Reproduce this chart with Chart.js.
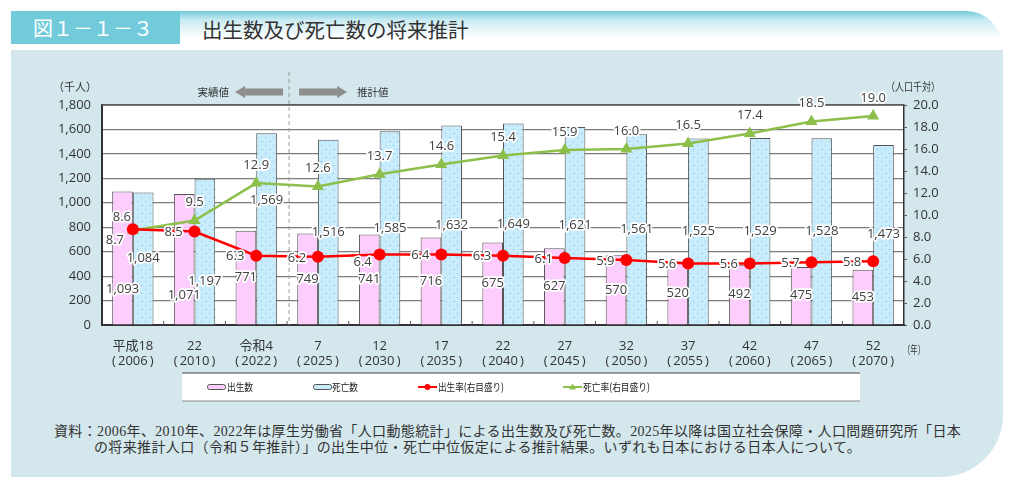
<!DOCTYPE html>
<html><head><meta charset="utf-8">
<script src="https://cdn.jsdelivr.net/npm/chart.js@4/dist/chart.umd.min.js"></script>
<style>
html,body{margin:0;padding:0;background:#fff;width:1024px;height:488px;overflow:hidden;}
#wrap{position:relative;width:1024px;height:488px;font-family:"Noto Sans CJK JP","Noto Sans",sans-serif;}
#panel{position:absolute;left:11px;top:50px;width:992px;height:427px;background:#d3e7ed;border-bottom-right-radius:62px;}
#hdrbar{position:absolute;left:180px;top:11px;width:822px;height:36px;background:linear-gradient(#74cbdb 0%,#c9ebf2 25%,#ffffff 75%);border-top-right-radius:44px;}
#badge{position:absolute;left:11px;top:11px;width:169px;height:33px;background:#72cbdb;color:#fff;font-size:20px;line-height:33px;text-indent:22px;}
#title{position:absolute;left:202px;top:14px;font-size:20.5px;line-height:30px;color:#333;}
#c{position:absolute;left:0;top:0;}
.note{position:absolute;font-family:"Liberation Serif","Noto Sans CJK JP",serif;font-size:14px;letter-spacing:0.36px;color:#333;white-space:nowrap;line-height:16px;}
</style></head>
<body><div id="wrap">
<div id="panel"></div>
<div id="hdrbar"></div>
<div id="badge">図１－１－３</div>
<div id="title">出生数及び死亡数の将来推計</div>
<div class="note" id="n1" style="left:54px;top:424px;">資料：2006年、2010年、2022年は厚生労働省「人口動態統計」による出生数及び死亡数。2025年以降は国立社会保障・人口問題研究所「日本</div>
<div class="note" id="n2" style="left:94px;top:440px;">の将来推計人口（令和５年推計）」の出生中位・死亡中位仮定による推計結果。いずれも日本における日本人について。</div>
<canvas id="c" width="1024" height="488"></canvas>
</div>
<script>
// ---- data ----
const eraLabels  = ['平成18','22','令和4','7','12','17','22','27','32','37','42','47','52'];
const yearLabels = ['2006','2010','2022','2025','2030','2035','2040','2045','2050','2055','2060','2065','2070'];
const births     = [1093,1071,771,749,741,716,675,627,570,520,492,475,453];
const deaths     = [1084,1197,1569,1516,1585,1632,1649,1621,1561,1525,1529,1528,1473];
const birthRate  = [8.7,8.5,6.3,6.2,6.4,6.4,6.3,6.1,5.9,5.6,5.6,5.7,5.8];
const deathRate  = [8.6,9.5,12.9,12.6,13.7,14.6,15.4,15.9,16.0,16.5,17.4,18.5,19.0];
const leftTicks  = {min:0,max:1800,step:200};
const rightTicks = {min:0,max:20,step:2};
const seriesNames = ['出生数','死亡数','出生率(右目盛り)','死亡率(右目盛り)'];

// label nudges (pixels) where the reference moved labels away from default
const birthsLabelDy = {0:31,1:36};
const deathsLabelDy = {1:30,2:-29};
const birthRateNudge = {0:[-18,11],4:[-17,8]};
const deathRateNudge = {0:[-11,-13]};

const PINK='#fdcdfd', BLUE='#c8ecfb', RED='#ff0000', GREEN='#8dbf4b', EDGE='#555';

function dotPattern(){
  const p=document.createElement('canvas');p.width=8;p.height=8;
  const g=p.getContext('2d');
  g.fillStyle=BLUE;g.fillRect(0,0,8,8);
  g.fillStyle='#6cc2e6';
  g.fillRect(1,1,1,1);g.fillRect(5,5,1,1);
  return g.createPattern(p,'repeat');
}
const ctx0=document.getElementById('c').getContext('2d');
const pat=dotPattern();

const fontNum='"Open Sans","Noto Sans CJK JP",sans-serif';
const fontJP='"Noto Sans CJK JP",sans-serif';

function halo(ctx,text,x,y,font,color){
  ctx.save();ctx.font=font;ctx.textAlign='center';ctx.textBaseline='middle';
  ctx.lineJoin='round';ctx.strokeStyle='#fff';ctx.lineWidth=3.5;ctx.strokeText(text,x,y);
  ctx.fillStyle=color||'#404040';ctx.fillText(text,x,y);ctx.restore();
}
function fmt(n){return n.toLocaleString('en-US');}

const deco={
  id:'deco',
  beforeDraw(chart){
    const {ctx,chartArea:a}=chart;
    ctx.save();ctx.fillStyle='#fff';ctx.fillRect(a.left,a.top,a.right-a.left,a.bottom-a.top);ctx.restore();
  },
  beforeDatasetsDraw(chart){
    const {ctx,chartArea:a,scales}=chart;const x=scales.x;
    ctx.save();ctx.strokeStyle='#555';ctx.lineWidth=1.5;
    ctx.beginPath();ctx.moveTo(a.left,a.top);ctx.lineTo(a.right,a.top);ctx.stroke();
    ctx.strokeStyle='#555';ctx.lineWidth=1;
    for(let i=1;i<eraLabels.length;i++){
      const bx=(x.getPixelForValue(i-1)+x.getPixelForValue(i))/2;
      ctx.beginPath();ctx.moveTo(bx,a.bottom-4);ctx.lineTo(bx,a.bottom);ctx.stroke();
    }
    const dx=(x.getPixelForValue(2)+x.getPixelForValue(3))/2+2;
    ctx.strokeStyle='#9a9a9a';ctx.lineWidth=1;ctx.setLineDash([4,3]);
    ctx.beginPath();ctx.moveTo(dx,72);ctx.lineTo(dx,a.bottom);ctx.stroke();
    ctx.setLineDash([]);
    ctx.fillStyle='#8e8e8e';
    const ay=92;
    ctx.fillRect(dx-44,ay-3.5,38,7);
    ctx.beginPath();ctx.moveTo(dx-54,ay);ctx.lineTo(dx-44,ay-6);ctx.lineTo(dx-44,ay+6);ctx.closePath();ctx.fill();
    ctx.fillRect(dx+10,ay-3.5,38,7);
    ctx.beginPath();ctx.moveTo(dx+58,ay);ctx.lineTo(dx+48,ay-6);ctx.lineTo(dx+48,ay+6);ctx.closePath();ctx.fill();
    ctx.fillStyle='#333';ctx.font='10.5px '+fontJP;ctx.textBaseline='middle';
    ctx.textAlign='right';ctx.fillText('実績値',dx-60,ay);
    ctx.textAlign='left';ctx.fillText('推計値',dx+68,ay);
    ctx.font='11px '+fontJP;ctx.textAlign='center';
    ctx.fillText('（千人）',75,87,44);
    ctx.fillText('（人口千対）',913,87,54);
    ctx.fillText('（年）',914,350,22);
    ctx.restore();
  },
  afterDraw(chart){
    const {ctx,scales}=chart;const x=scales.x,y1=scales.y1;
    const mB=chart.getDatasetMeta(0),mD=chart.getDatasetMeta(1);
    const f='13px '+fontNum;
    births.forEach((v,i)=>{
      const el=mB.data[i];const cy=(el.y+el.base)/2+(birthsLabelDy[i]||0);
      halo(ctx,fmt(v),el.x,cy,f);
    });
    deaths.forEach((v,i)=>{
      const el=mD.data[i];const cy=(el.y+el.base)/2+(deathsLabelDy[i]||0);
      halo(ctx,fmt(v),el.x,cy,f);
    });
    deathRate.forEach((v,i)=>{
      const n=deathRateNudge[i]||[0,-18];
      halo(ctx,v.toFixed(1),x.getPixelForValue(i)+n[0],y1.getPixelForValue(v)+n[1],f);
    });
    birthRate.forEach((v,i)=>{
      const n=birthRateNudge[i]||[-21,1];
      halo(ctx,v.toFixed(1),x.getPixelForValue(i)+n[0],y1.getPixelForValue(v)+n[1],f);
    });
    // legend
    ctx.save();
    ctx.fillStyle='#fff';ctx.fillRect(182,373,678,28);
    ctx.strokeStyle='#444';ctx.lineWidth=1.2;
    ctx.beginPath();ctx.moveTo(182,373);ctx.lineTo(860,373);ctx.stroke();
    ctx.strokeStyle='#888';
    ctx.beginPath();ctx.moveTo(182,401);ctx.lineTo(860,401);ctx.stroke();
    const ly=387;
    ctx.font='10.5px '+fontJP;ctx.textBaseline='middle';ctx.textAlign='left';
    ctx.fillStyle=PINK;ctx.strokeStyle=EDGE;ctx.lineWidth=1;
    ctx.beginPath();ctx.roundRect(207.5,384.5,18,5,2);ctx.fill();ctx.stroke();
    ctx.fillStyle=BLUE;
    ctx.beginPath();ctx.roundRect(313.5,384.5,18,5,2);ctx.fill();ctx.stroke();
    ctx.fillStyle='#222';
    ctx.fillText(seriesNames[0],227,ly,26);
    ctx.fillText(seriesNames[1],332,ly,26);
    ctx.strokeStyle=RED;ctx.lineWidth=2;
    ctx.beginPath();ctx.moveTo(418,ly);ctx.lineTo(437,ly);ctx.stroke();
    ctx.fillStyle=RED;ctx.beginPath();ctx.arc(427.5,ly,3,0,Math.PI*2);ctx.fill();
    ctx.fillStyle='#222';ctx.fillText(seriesNames[2],438,ly,66);
    ctx.strokeStyle=GREEN;ctx.lineWidth=2;
    ctx.beginPath();ctx.moveTo(563,ly);ctx.lineTo(582,ly);ctx.stroke();
    ctx.fillStyle=GREEN;ctx.beginPath();ctx.moveTo(572.5,ly-3.5);ctx.lineTo(576,ly+2.5);ctx.lineTo(569,ly+2.5);ctx.closePath();ctx.fill();
    ctx.fillStyle='#222';ctx.fillText(seriesNames[3],583,ly,67);
    ctx.restore();
  }
};

new Chart(ctx0,{
  data:{
    labels:eraLabels,
    datasets:[
      {type:'bar',label:seriesNames[0],data:births,backgroundColor:PINK,borderColor:EDGE,borderWidth:1,yAxisID:'y',order:2,barPercentage:1,categoryPercentage:0.67},
      {type:'bar',label:seriesNames[1],data:deaths,backgroundColor:pat,borderColor:EDGE,borderWidth:1,yAxisID:'y',order:2,barPercentage:1,categoryPercentage:0.67},
      {type:'line',label:seriesNames[2],data:birthRate,borderColor:RED,backgroundColor:RED,borderWidth:2.5,pointRadius:6,pointStyle:'circle',pointBorderWidth:0,yAxisID:'y1',order:0},
      {type:'line',label:seriesNames[3],data:deathRate,borderColor:GREEN,backgroundColor:GREEN,borderWidth:2.5,pointRadius:7,pointStyle:'triangle',pointBorderWidth:0,yAxisID:'y1',order:1}
    ]
  },
  options:{
    responsive:false,animation:false,
    layout:{padding:{top:105,left:0,right:0,bottom:0}},
    plugins:{legend:{display:false},tooltip:{enabled:false}},
    scales:{
      x:{grid:{display:false},border:{display:true,color:'#333',width:2},
         ticks:{padding:6,color:'#333',font:{family:fontNum,size:13,lineHeight:1.15},maxRotation:0,autoSkip:false,
           callback:(v,i)=>[eraLabels[i],'(\u2009'+yearLabels[i]+'\u2009)']},
         afterFit(s){s.height=163;}},
      y:{position:'left',min:leftTicks.min,max:leftTicks.max,
         grid:{color:'#7d7d7d',lineWidth:1.2,drawTicks:false},border:{color:'#333',width:2},
         ticks:{stepSize:leftTicks.step,padding:11,color:'#333',font:{family:fontNum,size:13},callback:v=>fmt(v)},
         afterFit(s){s.width=102;}},
      y1:{position:'right',min:rightTicks.min,max:rightTicks.max,
         grid:{drawOnChartArea:false,color:'#555',tickLength:3},border:{color:'#333',width:1.5},
         ticks:{stepSize:rightTicks.step,padding:6,color:'#333',font:{family:fontNum,size:13},callback:v=>v.toFixed(1)},
         afterFit(s){s.width=120;}}
    }
  },
  plugins:[deco]
});
</script>
</body></html>
